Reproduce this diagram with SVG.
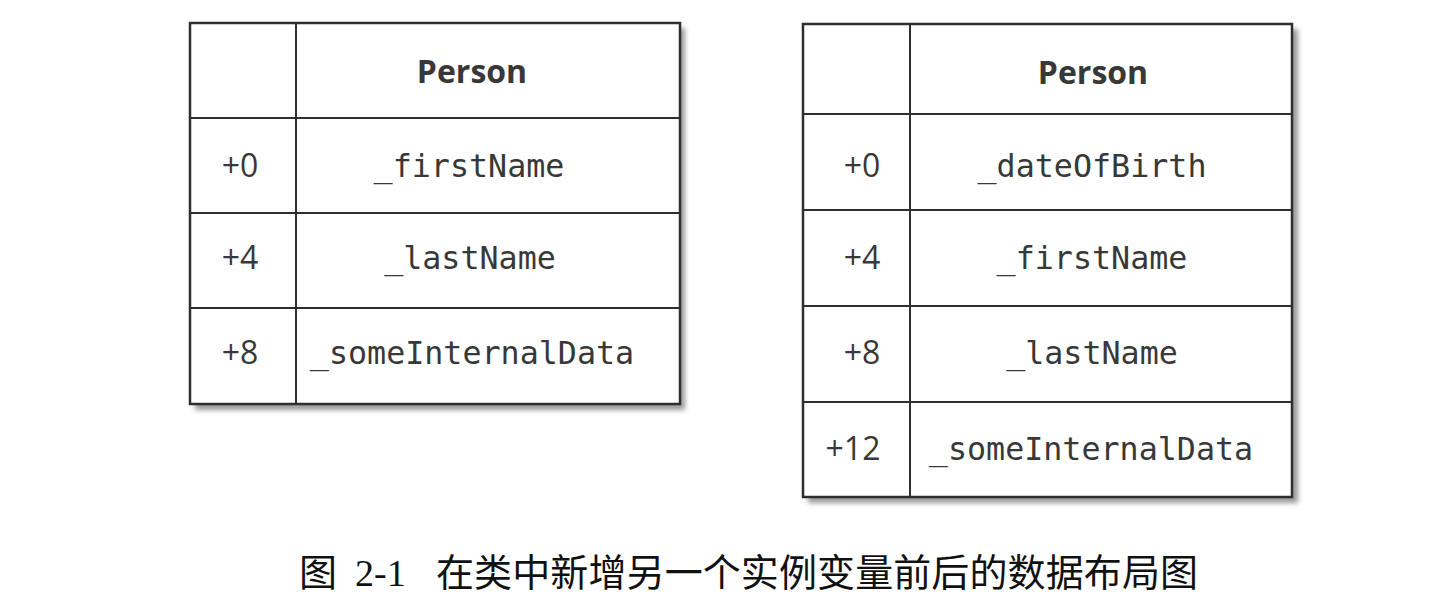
<svg xmlns="http://www.w3.org/2000/svg" width="1452" height="604" viewBox="0 0 1452 604">
<defs>
<filter id="sh" x="-5%" y="-5%" width="115%" height="115%"><feGaussianBlur stdDeviation="2.5"/></filter>
<style>
.grid{fill:none;stroke:#2e2e2e;stroke-width:2}
.frame{fill:#fff;stroke:#2e2e2e;stroke-width:2.5}
.shadow{fill:#9a9a9a;filter:url(#sh)}
.hd{font-family:"Open Sans","Liberation Sans",sans-serif;font-weight:bold;font-size:32px;fill:#383838;text-anchor:middle}
.off{font-family:"Open Sans","Liberation Sans",sans-serif;font-size:32px;fill:#383838;text-anchor:middle}
.fld{font-family:"DejaVu Sans Mono","Liberation Mono",monospace;font-size:31.7px;fill:#383838;text-anchor:middle}
.cap{font-family:"Liberation Serif","Noto Sans CJK SC",serif;font-size:38px;fill:#111}
</style>
</defs>
<rect width="1452" height="604" fill="#fff"/>
<g id="table-before">
<rect class="shadow" x="195" y="28" width="490" height="382"/>
<rect class="frame" x="190" y="23" width="490" height="381"/>
<path class="grid" d="M296 23V404M190 118H680M190 213H680M190 308H680"/>
<text class="hd" x="472" y="83">Person</text>
<text class="off" x="240" y="177">+0</text>
<text class="fld" x="469" y="177">_firstName</text>
<text class="off" x="240" y="269">+4</text>
<text class="fld" x="470" y="269">_lastName</text>
<text class="off" x="240" y="364">+8</text>
<text class="fld" x="472" y="364">_someInternalData</text>
</g>
<g id="table-after">
<rect class="shadow" x="808" y="29" width="490" height="474"/>
<rect class="frame" x="803" y="24" width="489" height="473"/>
<path class="grid" d="M910 24V497M803 114H1292M803 210H1292M803 306H1292M803 402H1292"/>
<text class="hd" x="1093" y="84">Person</text>
<text class="off" x="862" y="177">+0</text>
<text class="fld" x="1092" y="177">_dateOfBirth</text>
<text class="off" x="862" y="269">+4</text>
<text class="fld" x="1092" y="269">_firstName</text>
<text class="off" x="862" y="364">+8</text>
<text class="fld" x="1092" y="364">_lastName</text>
<text class="off" x="853" y="460">+12</text>
<text class="fld" x="1091" y="460">_someInternalData</text>
</g>
<g id="connectors"/>
<g id="caption">
<text class="cap" x="299" y="586">图</text>
<text class="cap" x="355" y="586">2-1</text>
<text class="cap" x="436" y="586" textLength="762" lengthAdjust="spacing">在类中新增另一个实例变量前后的数据布局图</text>
</g>
</svg>
